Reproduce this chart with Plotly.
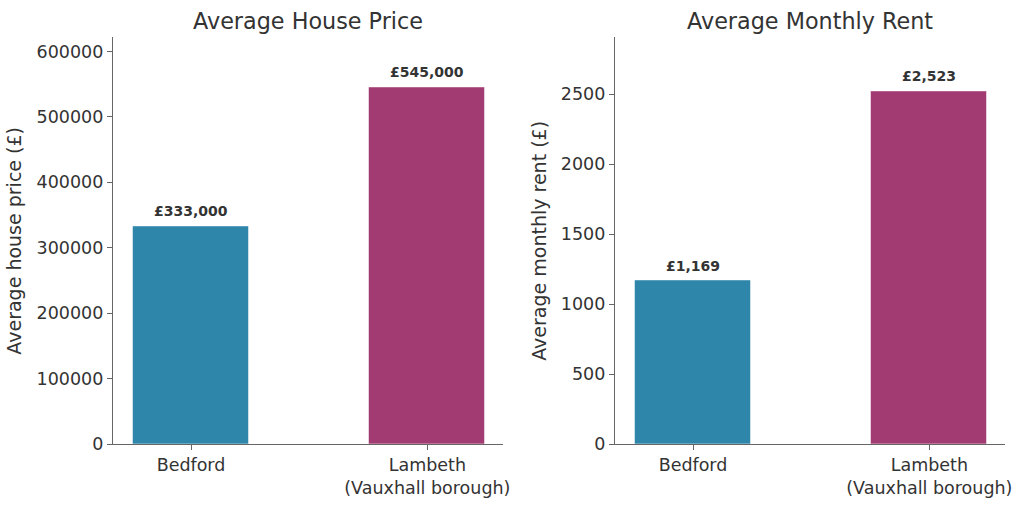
import plotly.graph_objects as go

# -----------------------------
# Data
# -----------------------------
areas = ["Bedford", "Lambeth<br>(Vauxhall borough)"]
house_price = [333000, 545000]
monthly_rent = [1169, 2523]
house_labels = ["£333,000", "£545,000"]
rent_labels = ["£1,169", "£2,523"]
bar_colors = ["#2E86AB", "#A23B72"]

TEXT = "#333333"
AXIS = "#666666"
FONT = "DejaVu Sans"

fig = go.Figure()

fig.add_trace(go.Bar(
    x=areas, y=house_price, width=0.49,
    marker=dict(color=bar_colors, line=dict(color="rgba(255,255,255,0.5)", width=1)),
    xaxis="x", yaxis="y", showlegend=False, hoverinfo="y",
))
fig.add_trace(go.Bar(
    x=areas, y=monthly_rent, width=0.49,
    marker=dict(color=bar_colors, line=dict(color="rgba(255,255,255,0.5)", width=1)),
    xaxis="x2", yaxis="y2", showlegend=False, hoverinfo="y",
))

# value labels above bars
annotations = []
for xr, yr, vals, labels in [("x", "y", house_price, house_labels),
                             ("x2", "y2", monthly_rent, rent_labels)]:
    for a, v, t in zip(areas, vals, labels):
        annotations.append(dict(
            x=a, y=v, xref=xr, yref=yr, text="<b>" + t + "</b>",
            showarrow=False, yanchor="middle", yshift=15,
            font=dict(family=FONT, size=14, color=TEXT),
        ))

# subplot titles
for xc, t in [((113 + 503) / 2 / 1024, "Average House Price"),
              ((615 + 1005) / 2 / 1024, "Average Monthly Rent")]:
    annotations.append(dict(
        x=xc, y=1 - 21.5 / 506, xref="paper", yref="paper", text=t,
        showarrow=False, xanchor="center", yanchor="middle",
        font=dict(family=FONT, size=22.3, color=TEXT),
    ))

xax = dict(
    type="category", range=[-0.33, 1.32],
    showline=True, linecolor=AXIS, linewidth=1.2,
    ticks="outside", ticklen=5, tickcolor=AXIS, tickwidth=1.2,
    showgrid=False, zeroline=False,
    tickfont=dict(family=FONT, size=17.5, color=TEXT),
)
yax = dict(
    showline=True, linecolor=AXIS, linewidth=1.2,
    ticks="outside", ticklen=5, tickcolor=AXIS, tickwidth=1.2,
    showgrid=False, zeroline=False, tickformat="d",
    tickfont=dict(family=FONT, size=17.5, color=TEXT),
    domain=[0.122, 0.926],
)

fig.update_layout(
    width=1024, height=506,
    margin=dict(l=0, r=0, t=0, b=0, autoexpand=False),
    paper_bgcolor="white", plot_bgcolor="white",
    font=dict(family=FONT, color=TEXT),
    bargap=0,
    xaxis=dict(xax, domain=[113 / 1024, 503 / 1024], anchor="y"),
    xaxis2=dict(xax, domain=[615 / 1024, 1005 / 1024], anchor="y2"),
    yaxis=dict(yax, anchor="x", range=[0, 621300], dtick=100000,
               title=dict(text="Average house price (£)", standoff=9,
                          font=dict(family=FONT, size=19, color=TEXT))),
    yaxis2=dict(yax, anchor="x2", range=[0, 2905], dtick=500,
                title=dict(text="Average monthly rent (£)", standoff=9,
                           font=dict(family=FONT, size=19, color=TEXT))),
    annotations=annotations,
)

fig.write_html("out.html", config={"displayModeBar": False},
               post_script="document.body.style.margin='0';")
